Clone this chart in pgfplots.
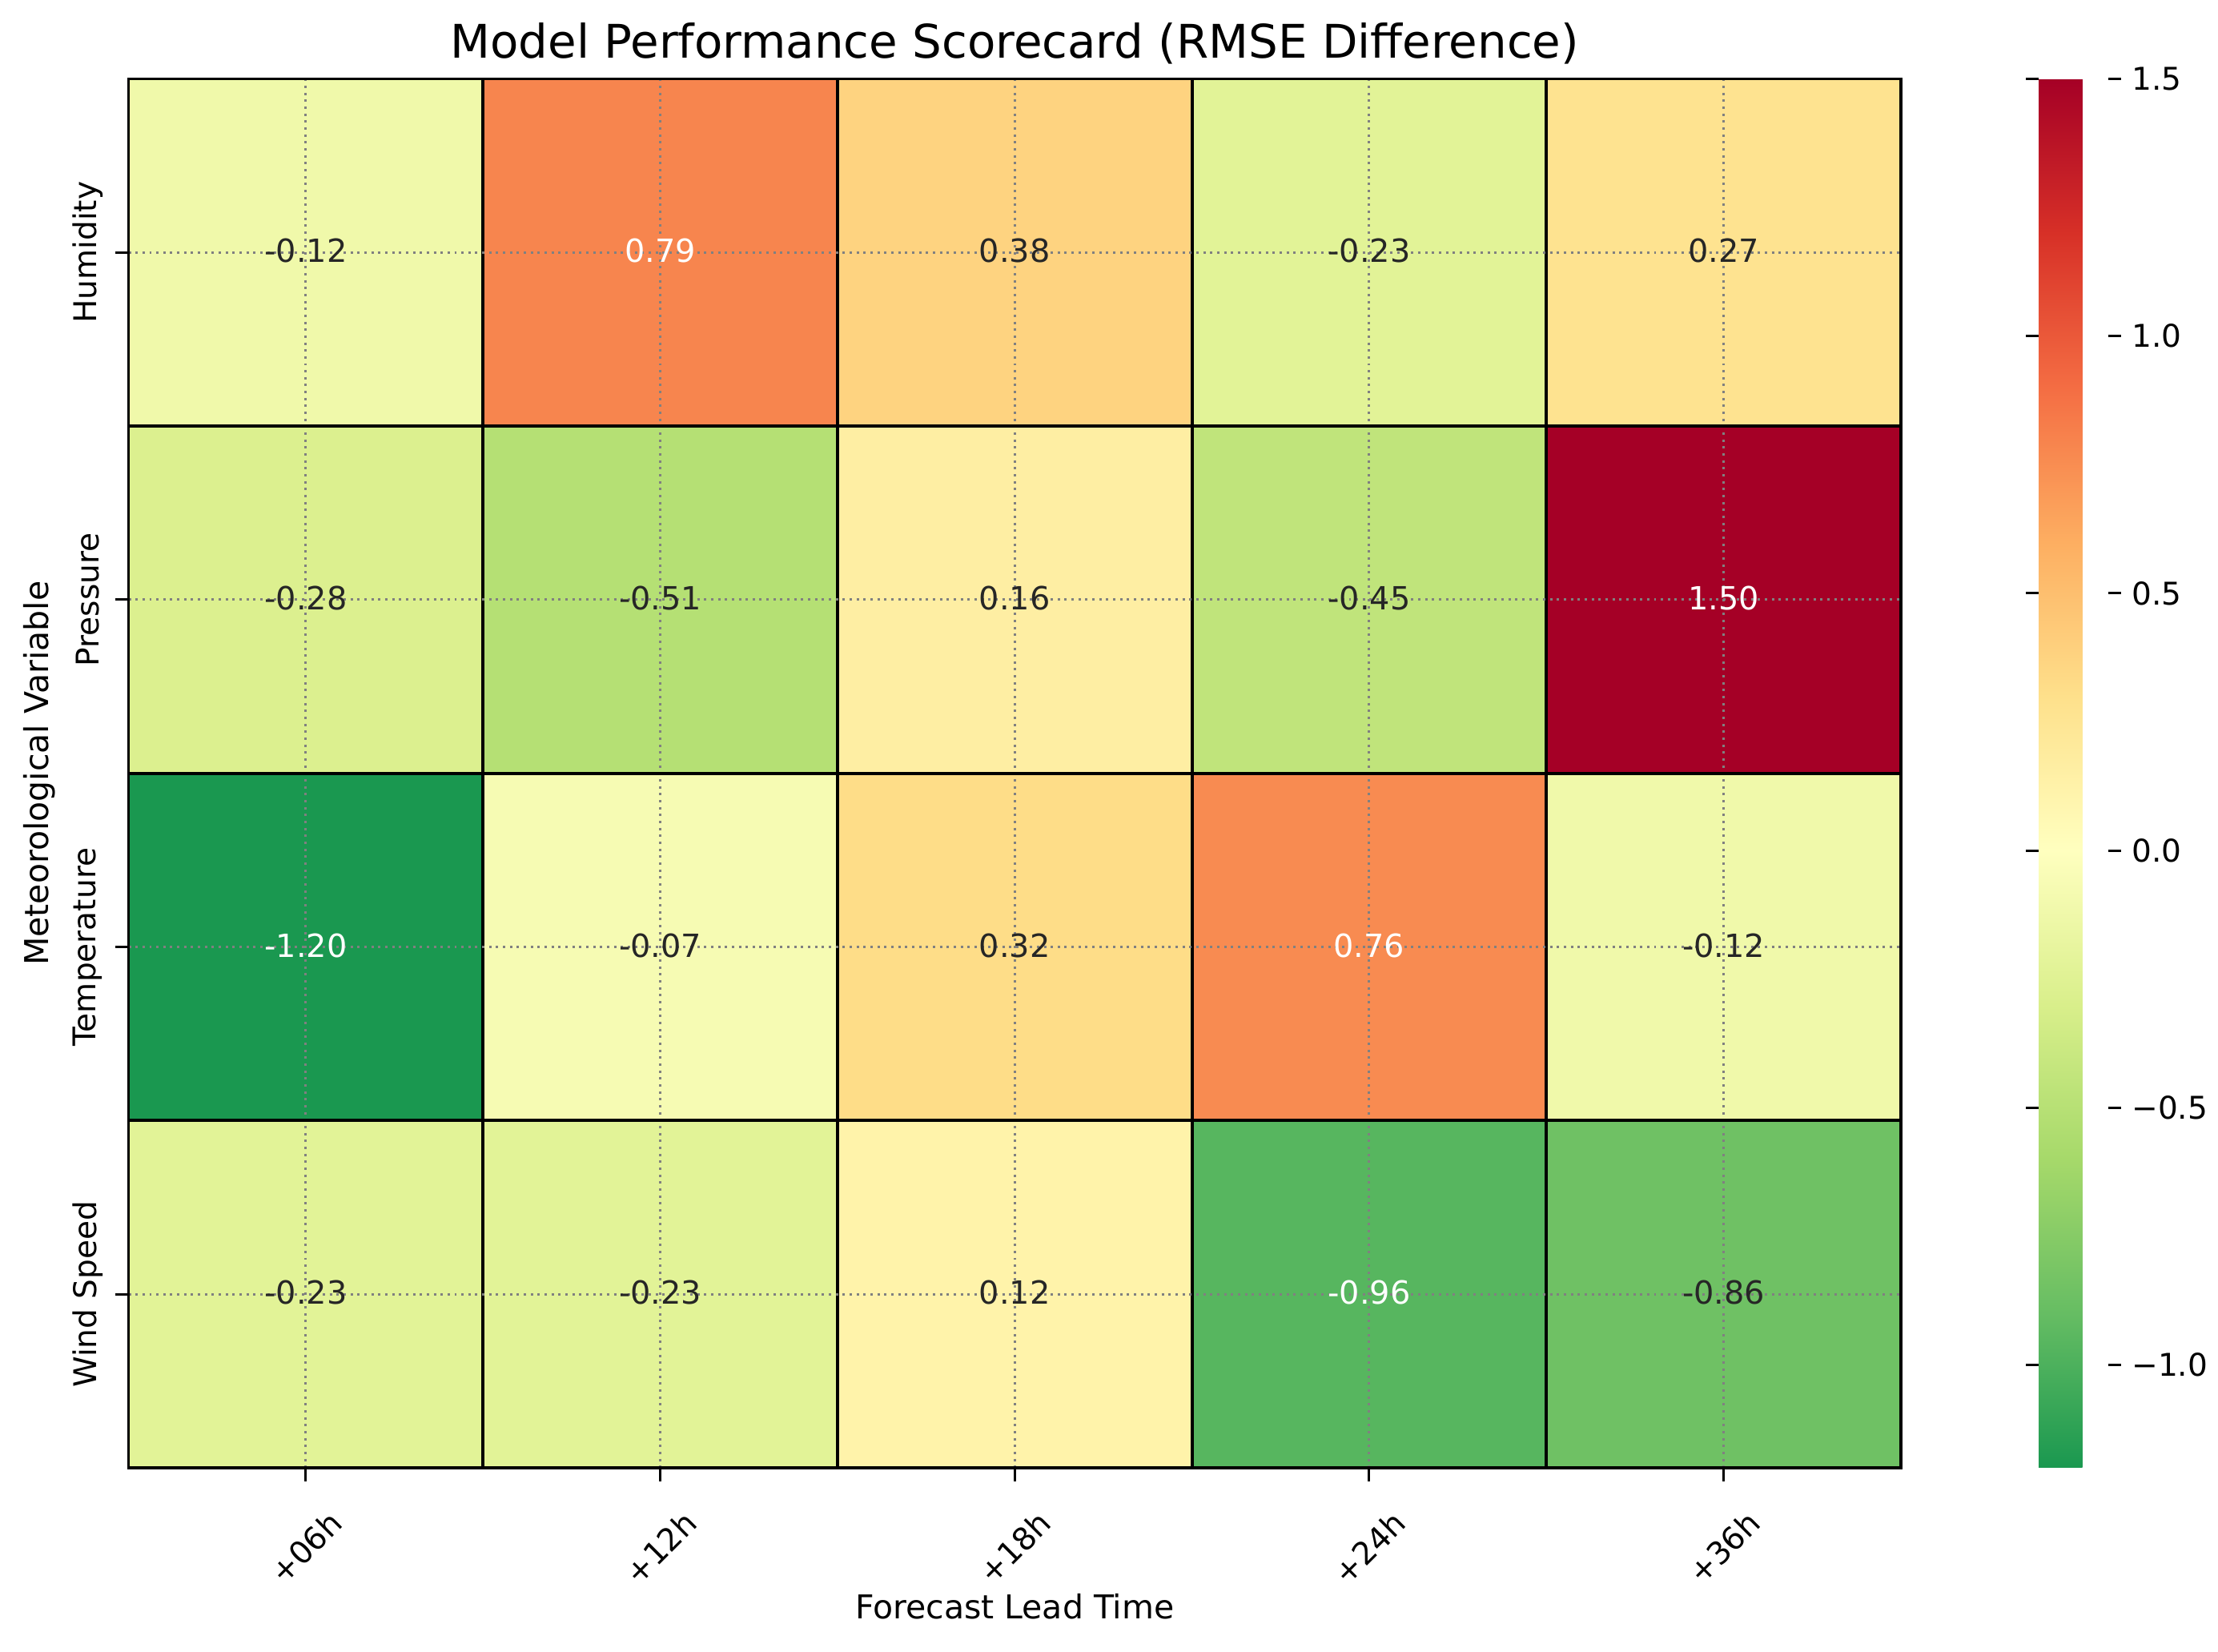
\documentclass[border=0pt]{standalone}
\usepackage{pgfplots}
\pgfplotsset{compat=1.18}
\usepackage{pgfplotstable}
\usepackage{fontspec}
\setmainfont{DejaVu Sans}

\definecolor{annodark}{RGB}{38,38,38}
\definecolor{gridgray}{RGB}{128,128,128}

% cell values, rows top to bottom: Humidity, Pressure, Temperature, Wind Speed
\pgfplotstableread{
x y v
0 0 -0.12
1 0 0.79
2 0 0.38
3 0 -0.23
4 0 0.27
0 1 -0.28
1 1 -0.51
2 1 0.16
3 1 -0.45
4 1 1.50
0 2 -1.20
1 2 -0.07
2 2 0.32
3 2 0.76
4 2 -0.12
0 3 -0.23
1 3 -0.23
2 3 0.12
3 3 -0.96
4 3 -0.86
}\cells

% labels on dark cells (white text)
\pgfplotstableread{
x y lab
1 0 0.79
4 1 1.50
0 2 -1.20
3 2 0.76
3 3 -0.96
}\labwhite

% labels on light cells (dark text)
\pgfplotstableread{
x y lab
0 0 -0.12
2 0 0.38
3 0 -0.23
4 0 0.27
0 1 -0.28
1 1 -0.51
2 1 0.16
3 1 -0.45
1 2 -0.07
2 2 0.32
4 2 -0.12
0 3 -0.23
1 3 -0.23
2 3 0.12
4 3 -0.86
}\labdark

\begin{document}
\begin{tikzpicture}
\begin{axis}[
  name=ax,
  scale only axis,
  width=577.7pt, height=452.7pt,
  xmin=-0.5, xmax=4.5, ymin=-0.5, ymax=3.5,
  y dir=reverse,
  enlargelimits=false,
  axis on top,
  colormap={rdylgnr}{rgb255=(26,152,80) rgb255=(102,189,99) rgb255=(166,217,106)
    rgb255=(217,239,139) rgb255=(255,255,191) rgb255=(254,224,139)
    rgb255=(253,174,97) rgb255=(244,109,67) rgb255=(215,48,39) rgb255=(165,0,38)},
  point meta min=-1.2, point meta max=1.5,
  xtick={0,1,2,3,4},
  xticklabels={+06h,+12h,+18h,+24h,+36h},
  ytick={0,1,2,3},
  yticklabels={Humidity,Pressure,Temperature,Wind Speed},
  minor xtick={0.5,1.5,2.5,3.5},
  minor ytick={0.5,1.5,2.5},
  minor tick length=0pt,
  xtick pos=bottom, ytick pos=left,
  tick align=outside,
  major tick length=4.4pt,
  tick style={black, line width=0.8pt},
  axis line style={black, line width=1pt},
  grid=both,
  major grid style={gridgray, line width=0.78pt, dash pattern=on 0.78pt off 1.48pt},
  minor grid style={black, solid, line width=1pt},
  ticklabel style={font=\fontsize{10.2}{12}\selectfont},
  xticklabel style={anchor=center, yshift=-21.6pt, rotate=45},
  yticklabel style={anchor=center, xshift=-8.9pt, rotate=90},
  xlabel={Forecast Lead Time},
  ylabel={Meteorological Variable},
  label style={font=\fontsize{10.7}{12}\selectfont},
  xlabel style={at={(axis description cs:0.5,0)}, anchor=center, yshift=-45.2pt},
  ylabel style={at={(axis description cs:0,0.5)}, anchor=center, yshift=29.1pt},
  title={Model Performance Scorecard (RMSE Difference)},
  title style={font=\fontsize{15.1}{18}\selectfont, at={(axis description cs:0.5,1)}, anchor=center, yshift=5.6pt},
  colorbar,
  colorbar style={
    at={(parent axis.north east)}, anchor=north west, xshift=36.4pt,
    width=22.6pt,
    ytick={-1,-0.5,0,0.5,1,1.5},
    yticklabels={−1.0,−0.5,0.0,0.5,1.0,1.5},
    axis line style={draw=none},
    tick style={black, line width=0.8pt},
    major tick length=4.2pt,
    tick align=outside,
    yticklabel style={font=\fontsize{10.2}{12}\selectfont},
  },
]
\addplot[matrix plot*, mesh/cols=5, mesh/rows=4, point meta=explicit]
  table[x=x, y=y, meta=v] {\cells};
\addplot[draw=none, mark=none, nodes near coords, point meta=explicit symbolic,
  nodes near coords align=center,
  every node near coord/.append style={text=white, anchor=center, yshift=0.5pt, font=\fontsize{10.4}{12}\selectfont}]
  table[x=x, y=y, meta=lab] {\labwhite};
\addplot[draw=none, mark=none, nodes near coords, point meta=explicit symbolic,
  nodes near coords align=center,
  every node near coord/.append style={text=annodark, anchor=center, yshift=0.5pt, font=\fontsize{10.4}{12}\selectfont}]
  table[x=x, y=y, meta=lab] {\labdark};
\end{axis}
\path (ax.south west) ++(-41.9pt,-59.8pt) rectangle ++(720.2pt,538.2pt);
\end{tikzpicture}
\end{document}
